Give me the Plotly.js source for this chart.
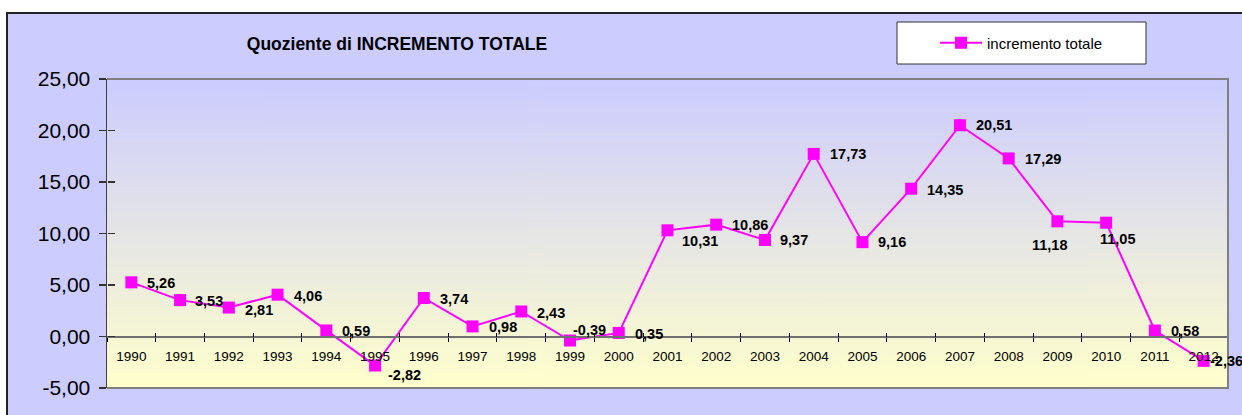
<!DOCTYPE html>
<html>
<head>
<meta charset="utf-8">
<script src="https://cdn.plot.ly/plotly-3.0.1.min.js"></script>
<style>
  html, body { margin: 0; padding: 0; background: #ffffff; }
  #chart { width: 1242px; height: 415px; }
</style>
</head>
<body>
<div id="chart"></div>
<script>
// ---- data ----
const years = ["1990","1991","1992","1993","1994","1995","1996","1997","1998","1999","2000",
               "2001","2002","2003","2004","2005","2006","2007","2008","2009","2010","2011","2012"];
const incrementoTotale = [5.26, 3.53, 2.81, 4.06, 0.59, -2.82, 3.74, 0.98, 2.43, -0.39, 0.35,
                          10.31, 10.86, 9.37, 17.73, 9.16, 14.35, 20.51, 17.29, 11.18, 11.05, 0.58, -2.36];
const yTickVals = [-5, 0, 5, 10, 15, 20, 25];
const yTickText = ["-5,00", "0,00", "5,00", "10,00", "15,00", "20,00", "25,00"];
const seriesName = "incremento totale";
const chartTitle = "Quoziente di INCREMENTO TOTALE";

// ---- style: label offsets in px [left edge dx, dy downwards] ----
const labelOffsets = [
  [14,1],[13,1],[14,2],[14,1],[14,1],[11,9],[14,1],[14,1],[14,2],[1,-11],[14,1],
  [12,11],[14,0],[13,0],[14,0],[14,0],[14,1],[14,0],[14,1],[-27,24],[-8,16],[14,0],[4,0]
];

const W = 1242, H = 415;
const M = {l: 107, r: 14, t: 79, b: 27};
const plotW = W - M.l - M.r, plotH = H - M.t - M.b;
const px = x => (x - M.l) / plotW;
const py = y => (H - M.b - y) / plotH;
const yMin = -5, yMax = 25;
const zeroPos = (0 - yMin) / (yMax - yMin);

// gradient background for the plot area
const cv = document.createElement('canvas');
cv.width = 4; cv.height = 256;
const ctx = cv.getContext('2d');
const g = ctx.createLinearGradient(0, 0, 0, 256);
g.addColorStop(0, '#CCCCFF');
g.addColorStop(1, '#FFFFCC');
ctx.fillStyle = g;
ctx.fillRect(0, 0, 4, 256);
const gradURL = cv.toDataURL('image/png');

const fmt = v => v.toFixed(2).replace('.', ',');

const font = 'Liberation Sans, Arial, sans-serif';

const traces = [
  {
    x: years, y: incrementoTotale, name: seriesName, type: 'scatter',
    mode: 'lines+markers',
    line: {color: '#FF00FF', width: 2},
    marker: {symbol: 'square', size: 12, color: '#FF00FF'},
    cliponaxis: false, hoverinfo: 'x+y'
  },
  {
    x: years, y: incrementoTotale, xaxis: 'x2', yaxis: 'y2', type: 'scatter',
    mode: 'lines', line: {width: 0}, opacity: 0, showlegend: false, hoverinfo: 'skip'
  }
];

// category axis: annotations use the category index
const annotations = incrementoTotale.map((v, i) => ({
  x: i, y: v, xref: 'x', yref: 'y', text: fmt(v), showarrow: false,
  xanchor: 'left', yanchor: 'middle',
  xshift: labelOffsets[i][0], yshift: -labelOffsets[i][1],
  font: {family: font, size: 14.5, color: '#000000', weight: 'bold'}
}));

const layout = {
  width: W, height: H,
  margin: M,
  paper_bgcolor: '#FFFFFF',
  plot_bgcolor: 'rgba(0,0,0,0)',
  showlegend: true,
  title: {
    text: chartTitle, xref: 'container', yref: 'container',
    x: 397 / W, xanchor: 'center', y: 1 - 44 / H, yanchor: 'middle',
    font: {family: font, size: 17.5, color: '#000000', weight: 'bold'}
  },
  legend: {
    x: px(935), xanchor: 'left', y: py(43), yanchor: 'middle',
    bgcolor: 'rgba(0,0,0,0)', borderwidth: 0, itemwidth: 42,
    font: {family: font, size: 15, color: '#000000'}
  },
  xaxis: {
    type: 'category', range: [-0.5, years.length - 0.5],
    anchor: 'free', position: zeroPos,
    tickmode: 'linear', tick0: 0, dtick: 1, tickson: 'boundaries',
    ticks: 'outside', ticklen: 4, tickcolor: '#000000', tickwidth: 1,
    showline: true, linecolor: '#707070', linewidth: 2,
    showgrid: false, zeroline: false, ticklabelstandoff: 7,
    tickfont: {family: font, size: 13.5, color: '#000000'},
    fixedrange: true
  },
  xaxis2: {
    type: 'category', range: [-0.5, years.length - 0.5],
    overlaying: 'x', anchor: 'free', position: zeroPos,
    tickmode: 'linear', tick0: 0, dtick: 1, tickson: 'boundaries',
    ticks: 'inside', ticklen: 4, tickcolor: '#000000', tickwidth: 1,
    showticklabels: false, showline: false, showgrid: false, zeroline: false,
    fixedrange: true
  },
  yaxis: {
    range: [yMin, yMax], tickmode: 'array', tickvals: yTickVals, ticktext: yTickText,
    ticks: 'outside', ticklen: 7, tickcolor: '#333333', tickwidth: 1.5,
    showline: true, linecolor: '#404040', linewidth: 1.5,
    showgrid: false, zeroline: false, ticklabelstandoff: 4,
    tickfont: {family: font, size: 21, color: '#000000'},
    fixedrange: true
  },
  yaxis2: {
    range: [yMin, yMax], overlaying: 'y', anchor: 'free', position: 0, side: 'left',
    tickmode: 'array', tickvals: yTickVals,
    ticks: 'inside', ticklen: 7, tickcolor: '#333333', tickwidth: 1.5,
    showticklabels: false, showline: false, showgrid: false, zeroline: false,
    fixedrange: true
  },
  images: [{
    source: gradURL, xref: 'x domain', yref: 'y domain',
    x: 0, y: 1, sizex: 1, sizey: 1, xanchor: 'left', yanchor: 'top',
    sizing: 'stretch', layer: 'below'
  }],
  shapes: [
    { type: 'rect', xref: 'paper', yref: 'paper', layer: 'below',
      x0: px(7), x1: px(1250), y0: py(425), y1: py(13),
      fillcolor: '#CCCCFF', line: {color: '#222222', width: 2} },
    { type: 'path', xref: 'paper', yref: 'paper', layer: 'above',
      path: 'M 0,1 L 1,1 L 1,0 L 0,0', line: {color: '#808080', width: 2} },
    { type: 'rect', xref: 'paper', yref: 'paper', layer: 'above',
      x0: px(897), x1: px(1146), y0: py(64), y1: py(22),
      fillcolor: '#FFFFFF', line: {color: '#333333', width: 1} }
  ],
  annotations: annotations
};

Plotly.newPlot('chart', traces, layout, {displayModeBar: false, staticPlot: true});
</script>
</body>
</html>
